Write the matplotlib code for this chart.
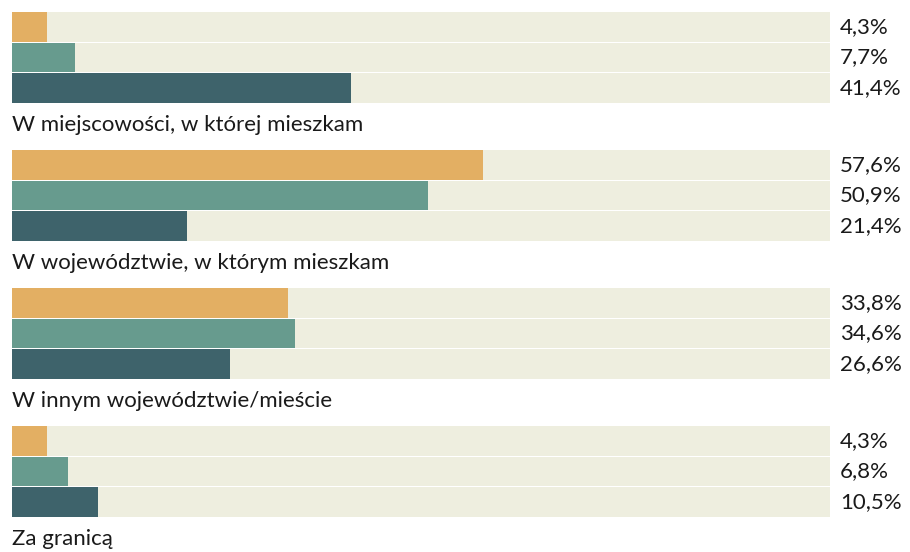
import matplotlib.pyplot as plt

# Dane
categories = ['W miejscowości, w której mieszkam',
              'W województwie, w którym mieszkam',
              'W innym województwie/mieście',
              'Za granicą']
series_a = [4.3, 57.6, 33.8, 4.3]
series_b = [7.7, 50.9, 34.6, 6.8]
series_c = [41.4, 21.4, 26.6, 10.5]

colors = ['#E3AF63', '#679B8E', '#3E636B']
bg_color = '#EEEEDF'

plt.rcParams['font.family'] = ['Lato', 'DejaVu Sans']

fig = plt.figure(figsize=(9.10, 5.52), dpi=100)
ax = fig.add_axes([12 / 910, 0, 818 / 910, 1])
ax.set_xlim(0, 100)
ax.set_ylim(552, 0)
ax.axis('off')

group_pitch = 138
bar_pitch = 30.5
bar_h = 29.5
top = 12

for g, cat in enumerate(categories):
    vals = [series_a[g], series_b[g], series_c[g]]
    g0 = top + g * group_pitch
    for i, v in enumerate(vals):
        yc = g0 + bar_h / 2 + i * bar_pitch
        ax.barh(yc, 100, height=bar_h, color=bg_color, left=0)
        ax.barh(yc, v, height=bar_h, color=colors[i], left=0)
        ax.text(101.2, yc, f'{v:.1f}%'.replace('.', ','), va='center', ha='left',
                fontsize=16, color='#1a1a1a', clip_on=False)
    ax.text(0, g0 + 113, cat, va='center', ha='left', fontsize=16, color='#1a1a1a')

fig.savefig('out.png', dpi=100)
